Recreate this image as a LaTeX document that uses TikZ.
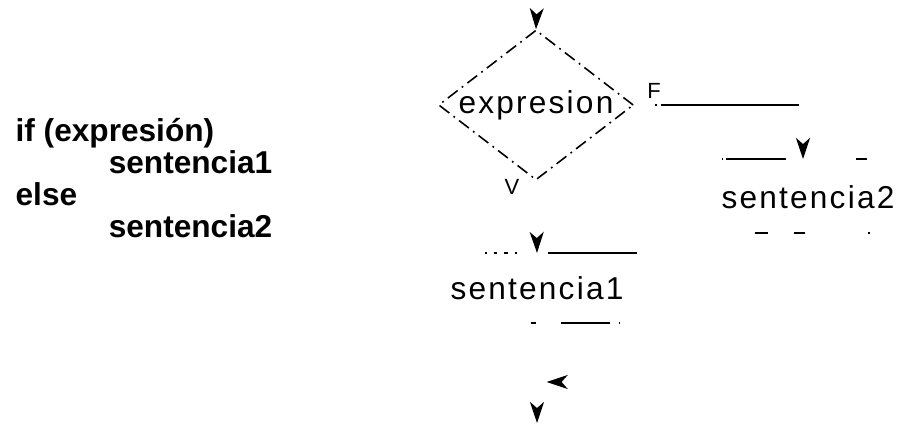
\documentclass[tikz,border=0pt]{standalone}
\usepackage{fontspec}
\setmainfont{Liberation Sans}
\newfontfamily\flowfont[LetterSpace=7]{Liberation Sans}
\usetikzlibrary{arrows.meta,shapes.geometric,calc}

\begin{document}
\begin{tikzpicture}[x=0.02cm, y=-0.02cm, line width=0.9pt,
		>={Stealth[length=12pt,width=8pt,inset=3.5pt]},
		ghost/.style={dash pattern=on 0pt off 60pt}]
		\useasboundingbox (0,0) rectangle (900,425);
		% the code on the left
		\begin{scope}[every node/.style={anchor=west, align=left, font=\bfseries\fontsize{18}{18.2}\selectfont}]
			\node (code) at(9,178) {if (expresión)\\ \hspace*{53pt}sentencia1\\ else\\ \hspace*{53pt}sentencia2};
		\end{scope}
		% the flowchart
		\begin{scope}[every node/.style={font=\flowfont\fontsize{18}{20}\selectfont}]
			\node[diamond, draw, dash pattern=on 7pt off 3pt on 1pt off 3pt, aspect=1.3, inner sep=0pt,
				minimum width=3.9cm, minimum height=3cm] (cond) at(536,105) {expresion};
			\node (s1) at(537,288) {sentencia1};
			\node (s2) at(808,197) {sentencia2};
		\end{scope}
		\begin{scope}[every node/.style={font=\fontsize{12.5}{14}\selectfont}]
			\node (lF) at(654,91) {F};
			\node (lV) at(512,187) {V};
		\end{scope}
		\coordinate (start) at(537,0);
		\coordinate (s1in) at ($(s1)+(0,-35)$);
		\coordinate (s1out) at ($(s1)+(0,35)$);
		\coordinate (s2in) at ($(s2)+(-5,-38)$);
		\coordinate (s2out) at ($(s2)+(0,36)$);
		\coordinate (join) at(537,382);
		\coordinate (stop) at(537,423);
		% what is left of the boxes
		\draw[dash pattern=on 1pt off 4pt on 2pt off 4pt on 2pt off 4pt on 1pt off 18pt on 55pt]
			($(s1)+(-52,-35)$) -- ($(s1)+(100,-35)$);
		\draw[dash pattern=on 0pt off 26pt on 3pt off 14pt on 28pt off 5pt on 1pt off 20pt]
			($(s1)+(-52,35)$) -- ($(s1)+(100,35)$);
		\draw[dash pattern=on 0.5pt off 2pt on 34pt off 40pt on 6pt off 30pt]
			($(s2)+(-86,-38)$) -- ($(s2)+(89,-38)$);
		\draw[dash pattern=on 0pt off 19pt on 7pt off 15pt on 6pt off 36pt on 1pt off 20pt]
			($(s2)+(-86,36)$) -- ($(s2)+(89,36)$);
		% connectors
		\draw[->, ghost] (start) -- (cond.north);
		\draw[->, ghost] (cond.south) -- (s1in);
		\draw[->, dash pattern=on 0pt off 12pt on 1pt off 2pt on 79pt off 60pt] (cond.east) -| (s2in);
		\draw[->, ghost, shorten >=5.5pt] (s2out) |- (join);
		\draw[ghost] (s1out) -- (join);
		\draw[->, ghost] (join) -- (stop);
	\end{tikzpicture}
\end{document}
